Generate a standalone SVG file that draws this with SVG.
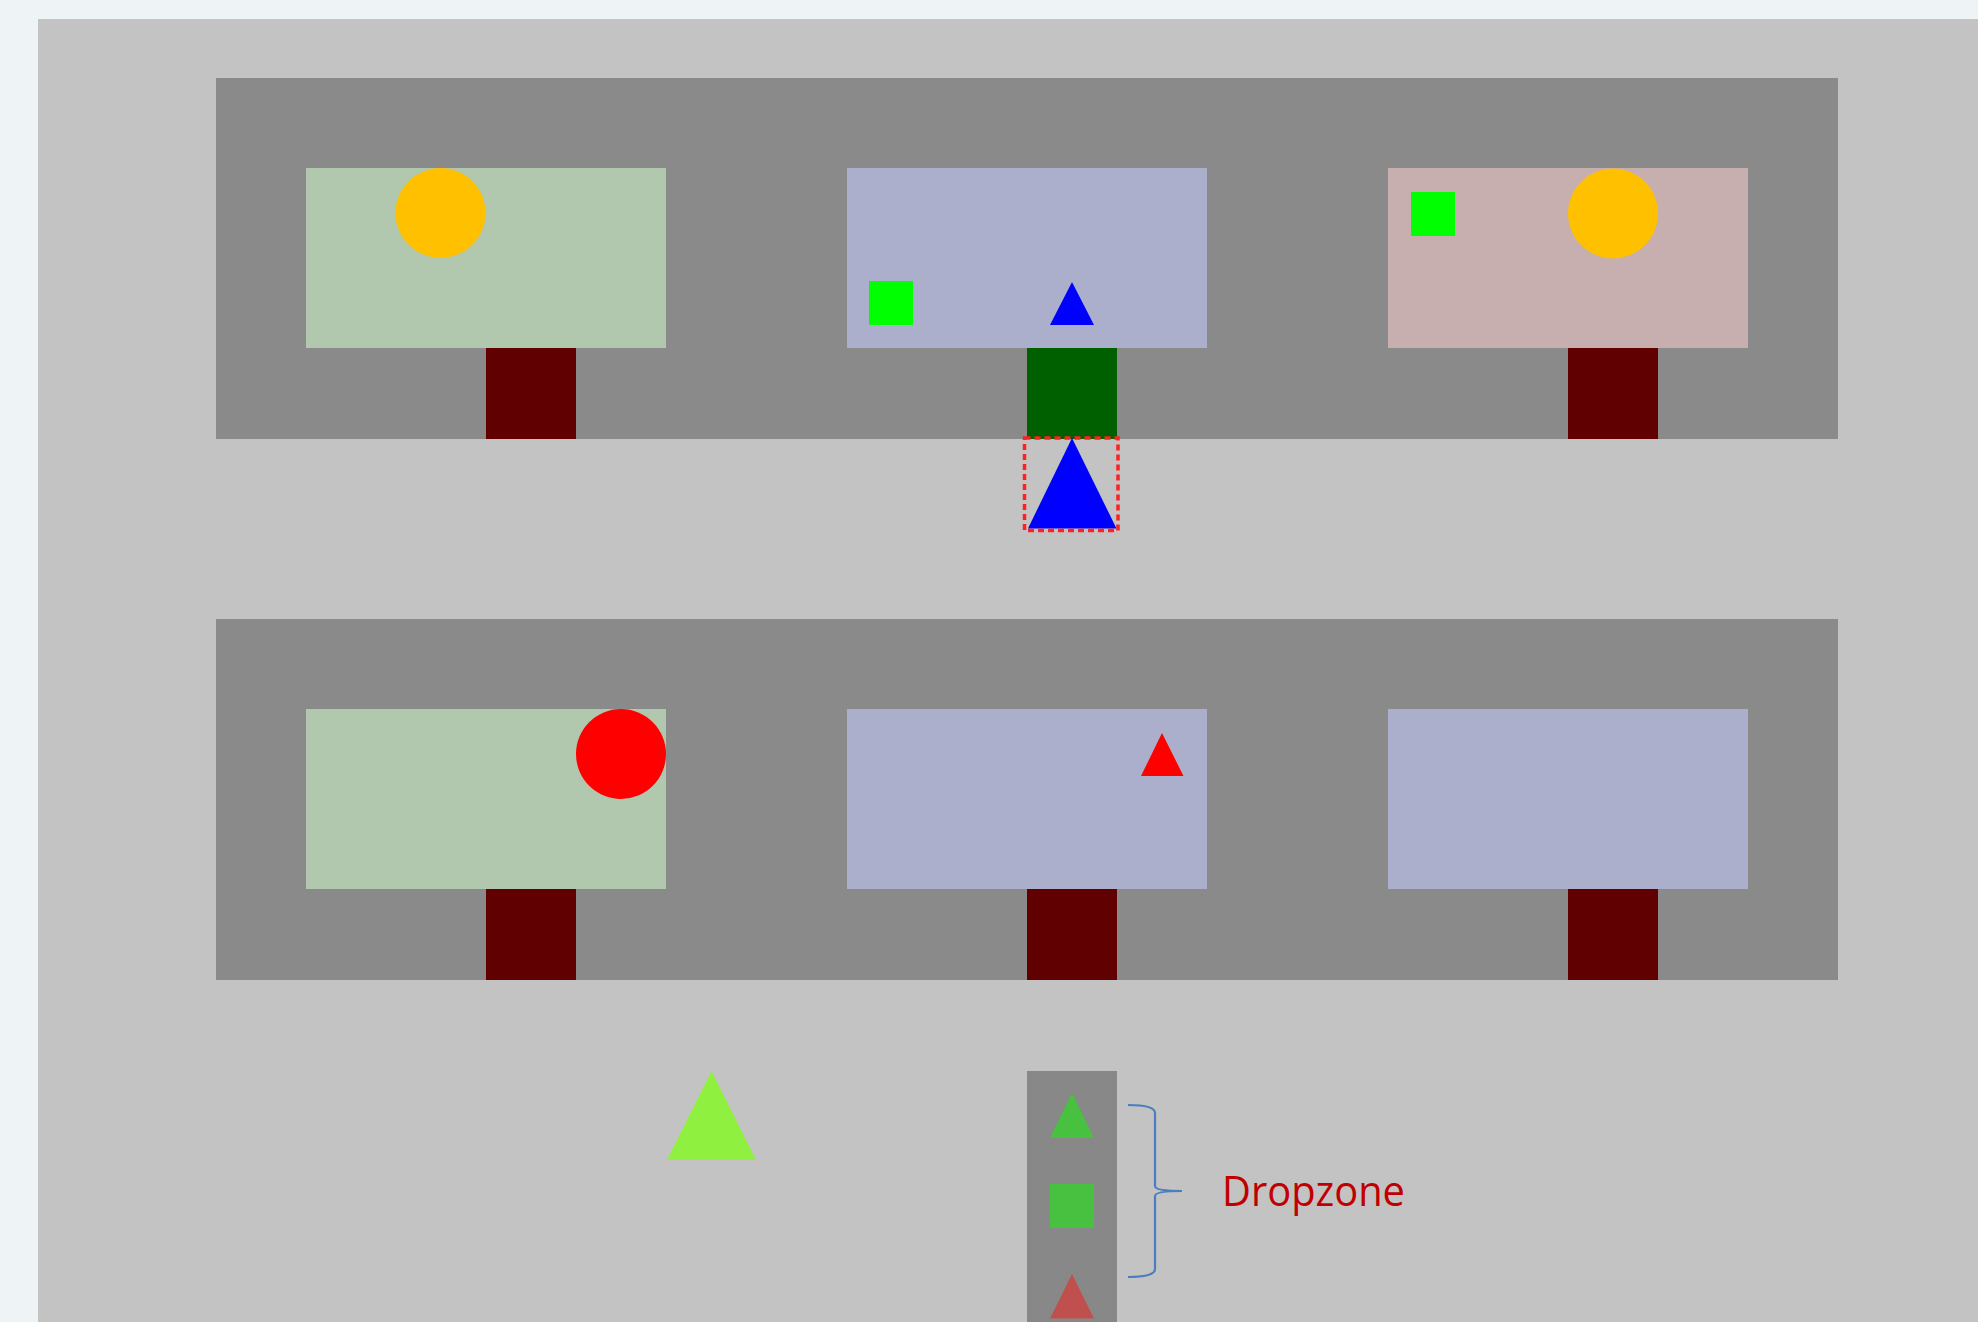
<svg xmlns="http://www.w3.org/2000/svg" width="1978" height="1322" viewBox="0 0 1978 1322">
<style>
.panel{fill:#8a8a8a}
.green{fill:#b1c8af}
.lav{fill:#acafcb}
.pink{fill:#c6afae}
.stand{fill:#600000}
.label{font-family:"Open Sans","Liberation Sans",sans-serif;font-size:42px;fill:#c00000}
</style>
<rect width="1978" height="1322" fill="#eef3f6"/>
<rect x="38" y="19" width="1940" height="1303" fill="#c3c3c3"/>
<g id="top-panel">
<rect class="panel" x="216" y="78" width="1622" height="361"/>
<g id="top-box-1"><rect class="green" x="306" y="168" width="360" height="180"/><rect class="stand" x="486" y="348" width="90" height="91"/><circle cx="440.5" cy="213" r="45" fill="#ffc000"/></g>
<g id="top-box-2"><rect class="lav" x="847" y="168" width="360" height="180"/><rect x="1027" y="348" width="90" height="91" fill="#006000"/><rect x="869" y="281" width="44" height="44" fill="#00ff00"/><polygon points="1072,282 1050,325 1094,325" fill="#0000ff"/></g>
<g id="top-box-3"><rect class="pink" x="1388" y="168" width="360" height="180"/><rect class="stand" x="1568" y="348" width="90" height="91"/><rect x="1411" y="192" width="44" height="44" fill="#00ff00"/><circle cx="1613" cy="213.5" r="45" fill="#ffc000"/></g>
</g>
<g id="dragged">
<polygon points="1072,438 1028,528.5 1116.5,528.5" fill="#0000ff"/>
<rect x="1024.5" y="438" width="93.5" height="92.5" fill="none" stroke="#ff2020" stroke-width="3.5" stroke-dasharray="6,4"/>
</g>
<g id="bottom-panel">
<rect class="panel" x="216" y="619" width="1622" height="361"/>
<g id="bottom-box-1"><rect class="green" x="306" y="709" width="360" height="180"/><rect class="stand" x="486" y="889" width="90" height="91"/><circle cx="621" cy="754" r="45" fill="#ff0000"/></g>
<g id="bottom-box-2"><rect class="lav" x="847" y="709" width="360" height="180"/><rect class="stand" x="1027" y="889" width="90" height="91"/><polygon points="1162,733 1141,776 1183.5,776" fill="#ff0000"/></g>
<g id="bottom-box-3"><rect class="lav" x="1388" y="709" width="360" height="180"/><rect class="stand" x="1568" y="889" width="90" height="91"/></g>
</g>
<g id="lime-triangle"><polygon points="711.5,1071 667,1160 756,1160" fill="#8ff040"/></g>
<g id="dropzone">
<rect x="1027" y="1071" width="90" height="260" fill="#888888"/>
<polygon points="1072,1093 1050,1138 1094,1138" fill="#48c040"/>
<rect x="1050" y="1184" width="44" height="44" fill="#48c040"/>
<polygon points="1072,1274 1050,1318.5 1094,1318.5" fill="#c0504d"/>
</g>
<g id="connectors">
<path d="M1128,1105 Q1155,1105 1155,1113 L1155,1186 Q1155,1191 1182,1191 Q1155,1191 1155,1196 L1155,1269 Q1155,1277 1128,1277" fill="none" stroke="#4a7ec0" stroke-width="2.2"/>
</g>
<g id="dropzone-label"><text class="label" x="1222" y="1206" textLength="183" lengthAdjust="spacingAndGlyphs">Dropzone</text></g>
</svg>
